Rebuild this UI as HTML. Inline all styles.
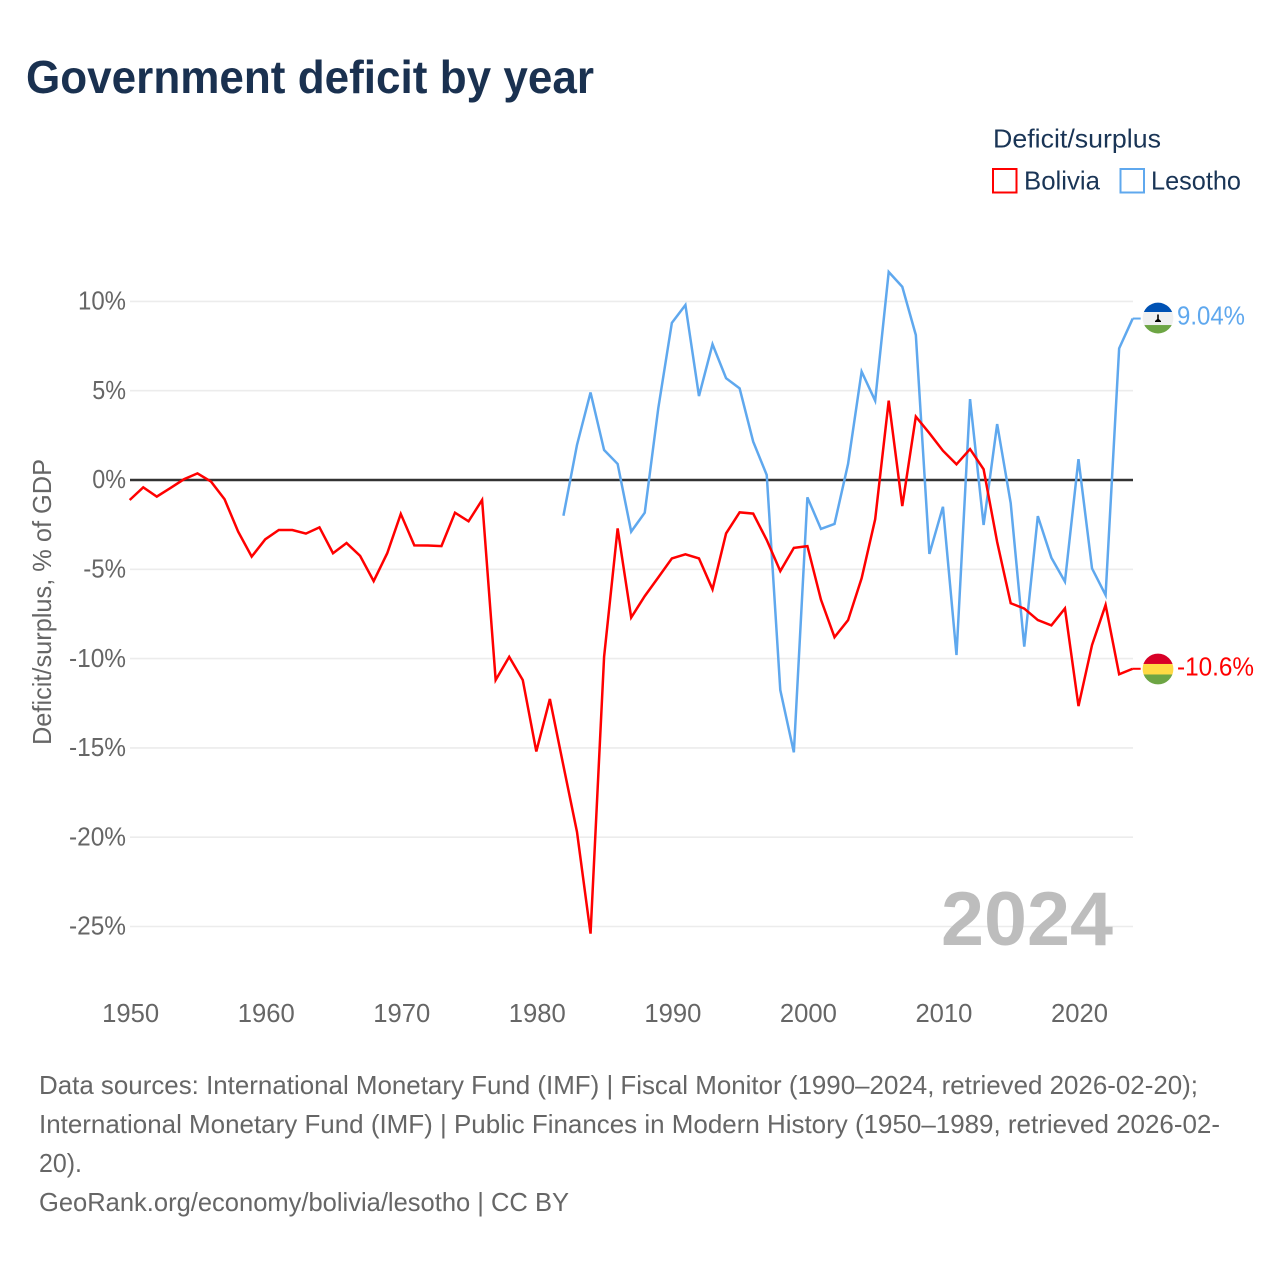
<!DOCTYPE html>
<html lang="en">
<head>
<meta charset="utf-8">
<title>Government deficit by year</title>
<style>
html,body{margin:0;padding:0;background:#fff;}
svg{display:block;font-family:"Liberation Sans",sans-serif;}
</style>
</head>
<body>
<svg id="chart" xmlns="http://www.w3.org/2000/svg" width="1280" height="1280" viewBox="0 0 1280 1280">
  <rect width="1280" height="1280" fill="#fff"/>
  <text x="26" y="93" font-size="46" font-weight="700" fill="#1a3150" textLength="568" lengthAdjust="spacingAndGlyphs">Government deficit by year</text>

  <g>
    <text x="993" y="147.5" font-size="25.6" fill="#1a3556" textLength="168" lengthAdjust="spacingAndGlyphs">Deficit/surplus</text>
    <g>
      <rect x="993" y="169" width="23.5" height="23.5" fill="#fff" stroke="#ff0000" stroke-width="2"/>
      <text x="1024" y="189.5" font-size="25.6" fill="#1a3556" textLength="76" lengthAdjust="spacingAndGlyphs">Bolivia</text>
    </g>
    <g>
      <rect x="1120.5" y="169" width="23.5" height="23.5" fill="#fff" stroke="#5fa8ee" stroke-width="2"/>
      <text x="1151" y="189.5" font-size="25.6" fill="#1a3556" textLength="90" lengthAdjust="spacingAndGlyphs">Lesotho</text>
    </g>
  </g>

  <text transform="translate(51,745) rotate(-90)" x="0" y="0" font-size="25.6" fill="#666" textLength="286" lengthAdjust="spacingAndGlyphs">Deficit/surplus, % of GDP</text>

  <g id="grid"></g>
  <g id="yticks"></g>
  <g id="xticks"></g>

  <text x="941" y="945" font-size="76" font-weight="700" fill="#bdbdbd" textLength="172" lengthAdjust="spacingAndGlyphs">2024</text>

  <g id="series"></g>

  <defs>
    <clipPath id="clip-lesotho"><circle id="clip-lesotho-circle" cx="1158" cy="318" r="15.4"/></clipPath>
    <clipPath id="clip-bolivia"><circle id="clip-bolivia-circle" cx="1158" cy="669" r="15.4"/></clipPath>
  </defs>
  <g id="flag-lesotho" clip-path="url(#clip-lesotho)">
    <rect x="1142" y="302" width="32" height="10" fill="#0052b4"/>
    <rect x="1142" y="312" width="32" height="13" fill="#f0f0f0"/>
    <rect x="1142" y="325" width="32" height="10" fill="#6da544"/>
    <path d="M1157.2 314.5h1.6v4.5l2.2 2v1h-6v-1l2.2-2z" fill="#000"/>
  </g>
  <g id="flag-bolivia" clip-path="url(#clip-bolivia)">
    <rect x="1142" y="653" width="32" height="11" fill="#d80027"/>
    <rect x="1142" y="664" width="32" height="10.5" fill="#ffda44"/>
    <rect x="1142" y="674.5" width="32" height="11" fill="#6da544"/>
  </g>

  <g font-size="25.6" fill="#666">
    <text x="39" y="1094" textLength="1159" lengthAdjust="spacingAndGlyphs">Data sources: International Monetary Fund (IMF) | Fiscal Monitor (1990–2024, retrieved 2026-02-20);</text>
    <text x="39" y="1133" textLength="1181" lengthAdjust="spacingAndGlyphs">International Monetary Fund (IMF) | Public Finances in Modern History (1950–1989, retrieved 2026-02-</text>
    <text x="39" y="1172" textLength="43" lengthAdjust="spacingAndGlyphs">20).</text>
    <text x="39" y="1211" textLength="530" lengthAdjust="spacingAndGlyphs">GeoRank.org/economy/bolivia/lesotho | CC BY</text>
  </g>
</svg>
<script>
const yTickValues = [10, 5, 0, -5, -10, -15, -20, -25];
const xTickYears = [1950, 1960, 1970, 1980, 1990, 2000, 2010, 2020];
const boliviaStartYear = 1950;
const boliviaValues = [
  -1.12, -0.41, -0.93, -0.45, 0.04, 0.37, -0.09, -1.08, -2.89, -4.29,
  -3.32, -2.8, -2.8, -3.0, -2.65, -4.1, -3.53, -4.25, -5.66, -4.1,
  -1.9, -3.66, -3.67, -3.7, -1.83, -2.31, -1.12, -11.2, -9.9, -11.2,
  -15.2, -12.26, -16.0, -19.7, -25.4, -9.9, -2.71, -7.7, -6.5, -5.45,
  -4.39, -4.16, -4.39, -6.12, -2.99, -1.81, -1.88, -3.36, -5.1, -3.8,
  -3.7, -6.7, -8.8, -7.85, -5.5, -2.2, 4.44, -1.46, 3.55, 2.62,
  1.64, 0.88, 1.73, 0.6, -3.47, -6.9, -7.2, -7.84, -8.14, -7.19,
  -12.66, -9.24, -7.0, -10.88, -10.57
];
const lesothoStartYear = 1982;
const lesothoValues = [
  -2.0, 1.96, 4.9, 1.68, 0.9, -2.89, -1.83, 4.03,
  8.8, 9.8, 4.7, 7.6, 5.7, 5.13, 2.15, 0.28, -11.76, -15.25,
  -0.97, -2.74, -2.46, 0.9, 6.07, 4.44, 11.65, 10.82, 8.12, -4.14,
  -1.5, -9.8, 4.53, -2.52, 3.13, -1.3, -9.33, -2.02, -4.35, -5.69,
  1.17, -4.95, -6.44, 7.37, 9.04
];
const lesothoLabel = "9.04%";
const boliviaLabel = "-10.6%";

const NS = "http://www.w3.org/2000/svg";
const xScale = function (year) { return 129.7 + (year - 1950) * 13.554; };
const yScale = function (v) { return 480 - v * 17.86; };
const svgEl = function (tag, attrs, parent) {
  const el = document.createElementNS(NS, tag);
  Object.keys(attrs).forEach(function (k) { el.setAttribute(k, attrs[k]); });
  parent.appendChild(el);
  return el;
};
const labelWidth = function (s) {
  let w = 0;
  for (const c of s) { w += c === "%" ? 19.5 : c === "-" ? 9 : c === "." ? 6 : 14.25; }
  return w;
};

const grid = document.getElementById("grid");
const yticks = document.getElementById("yticks");
yTickValues.filter(function (v) { return v !== 0; }).forEach(function (v) {
  const line = svgEl("line", { x1: 130, x2: 1133, y1: yScale(v), y2: yScale(v), stroke: "#ececec", "stroke-width": 1.6 }, grid);
  
  
});
yTickValues.forEach(function (v) {
  const s = v + "%";
  const t = svgEl("text", { x: 126, y: yScale(v) + 8.2, "text-anchor": "end", "font-size": 25.6, fill: "#666", textLength: labelWidth(s), lengthAdjust: "spacingAndGlyphs" }, yticks);
  
  
  t.textContent = s;
});
const xticks = document.getElementById("xticks");
xTickYears.forEach(function (yr) {
  const t = svgEl("text", { x: xScale(yr) + 1, y: 1022, "text-anchor": "middle", "font-size": 25.6, fill: "#666", textLength: 57, lengthAdjust: "spacingAndGlyphs" }, xticks);
  
  
  t.textContent = yr;
});

const series = document.getElementById("series");
const zero = svgEl("line", { x1: 130, x2: 1133, y1: yScale(0), y2: yScale(0), stroke: "#333", "stroke-width": 2.6 }, series);



const linePoints = function (start, values) {
  return values.map(function (v, i) { return xScale(start + i).toFixed(2) + "," + yScale(v).toFixed(2); }).join(" ");
};

const lesothoLine = svgEl("polyline", { points: linePoints(lesothoStartYear, lesothoValues), fill: "none", stroke: "#5fa8ee", "stroke-width": 2.5, "stroke-linejoin": "miter" }, series);



const boliviaLine = svgEl("polyline", { points: linePoints(boliviaStartYear, boliviaValues), fill: "none", stroke: "#ff0000", "stroke-width": 2.5, "stroke-linejoin": "miter" }, series);



const lastLesotho = lesothoValues[lesothoValues.length - 1];
const lastBolivia = boliviaValues[boliviaValues.length - 1];
const endX = xScale(2024);

const lesothoDash = svgEl("line", { x1: endX, x2: endX + 8, y1: yScale(lastLesotho), y2: yScale(lastLesotho), stroke: "#5fa8ee", "stroke-width": 2 }, series);



const boliviaDash = svgEl("line", { x1: endX, x2: endX + 8, y1: yScale(lastBolivia), y2: yScale(lastBolivia), stroke: "#ff0000", "stroke-width": 2 }, series);



const lesothoValueLabel = svgEl("text", { x: 1177, y: yScale(lastLesotho) + 6, "font-size": 25.6, fill: "#5fa8ee", textLength: 68, lengthAdjust: "spacingAndGlyphs" }, series);


lesothoValueLabel.textContent = lesothoLabel;

const boliviaValueLabel = svgEl("text", { x: 1177, y: yScale(lastBolivia) + 6.5, "font-size": 25.6, fill: "#ff0000", textLength: 77, lengthAdjust: "spacingAndGlyphs" }, series);


boliviaValueLabel.textContent = boliviaLabel;

document.getElementById("flag-lesotho").setAttribute("transform", "translate(0," + (yScale(lastLesotho) - 318.5) + ")");
document.getElementById("flag-bolivia").setAttribute("transform", "translate(0," + (yScale(lastBolivia) - 668.8) + ")");
</script>
</body>
</html>
